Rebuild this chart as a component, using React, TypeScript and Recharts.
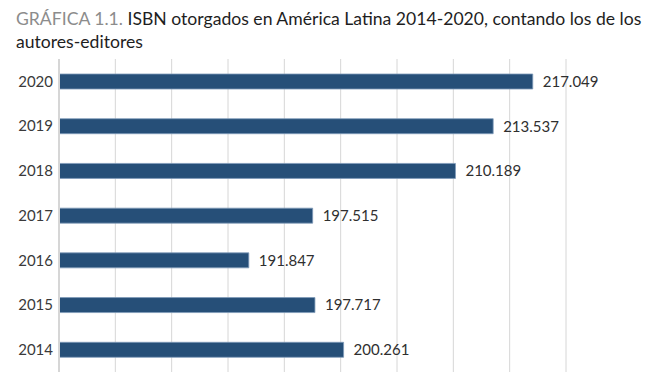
import React from "react";
import {
  Bar,
  BarChart,
  CartesianGrid,
  LabelList,
  XAxis,
  YAxis,
} from "recharts";

const years = ["2020", "2019", "2018", "2017", "2016", "2015", "2014"];
const isbnCounts = [217049, 213537, 210189, 197515, 191847, 197717, 200261];
const xTicks = [
  175000, 180000, 185000, 190000, 195000, 200000, 205000, 210000, 215000,
  220000,
];

const formatNumber = (v: number) =>
  String(v).replace(/\B(?=(\d{3})+(?!\d))/g, ".");

const FONT = "Lato, 'Open Sans', sans-serif";

// ticks are only kept for the grid, nothing is drawn under the axis
const NoTick = () => <g />;

export default function App() {
  const data = years.map((year, i) => ({ year, total: isbnCounts[i] }));

  return (
    <div
      style={{
        position: "fixed",
        top: 0,
        left: 0,
        width: 660,
        height: 379,
        background: "#fff",
        fontFamily: FONT,
        overflow: "hidden",
      }}
    >
      <div
        style={{
          position: "absolute",
          left: 16,
          top: 7,
          fontSize: 17.6,
          lineHeight: "23px",
          color: "#1e1e1e",
          whiteSpace: "nowrap",
        }}
      >
        <div>
          <span style={{ color: "#8c8c8c" }}>GRÁFICA 1.1.</span>
          <span> ISBN otorgados en América Latina 2014-2020, contando los de los</span>
        </div>
        <div>autores-editores</div>
      </div>
      <div style={{ position: "absolute", left: 0, top: 0 }}>
        <BarChart
          width={660}
          height={379}
          data={data}
          layout="vertical"
          margin={{ top: 59, right: 94, bottom: 7, left: 0 }}
          barSize={15}
        >
          <CartesianGrid
            horizontal={false}
            stroke="#d6d6d6"
            strokeWidth={1}
          />
          <XAxis
            type="number"
            domain={[175000, 220000]}
            ticks={xTicks}
            interval={0}
            allowDataOverflow
            tick={NoTick}
            tickLine={false}
            axisLine={false}
            height={0}
          />
          <YAxis
            type="category"
            dataKey="year"
            width={59}
            tickLine={false}
            tickMargin={0}
            axisLine={{ stroke: "#d6d6d6", strokeWidth: 2 }}
            tick={{ fill: "#3a3a3a", fontSize: 15, fontFamily: FONT }}
          />
          <Bar
            dataKey="total"
            fill="#264f78"
            stroke="#7f9bb9"
            strokeWidth={0.8}
            isAnimationActive={false}
          >
            <LabelList
              dataKey="total"
              position="right"
              offset={10}
              formatter={(v: any) => formatNumber(Number(v))}
              style={{ fill: "#2f2f2f", fontSize: 15, fontFamily: FONT }}
            />
          </Bar>
        </BarChart>
      </div>
    </div>
  );
}
